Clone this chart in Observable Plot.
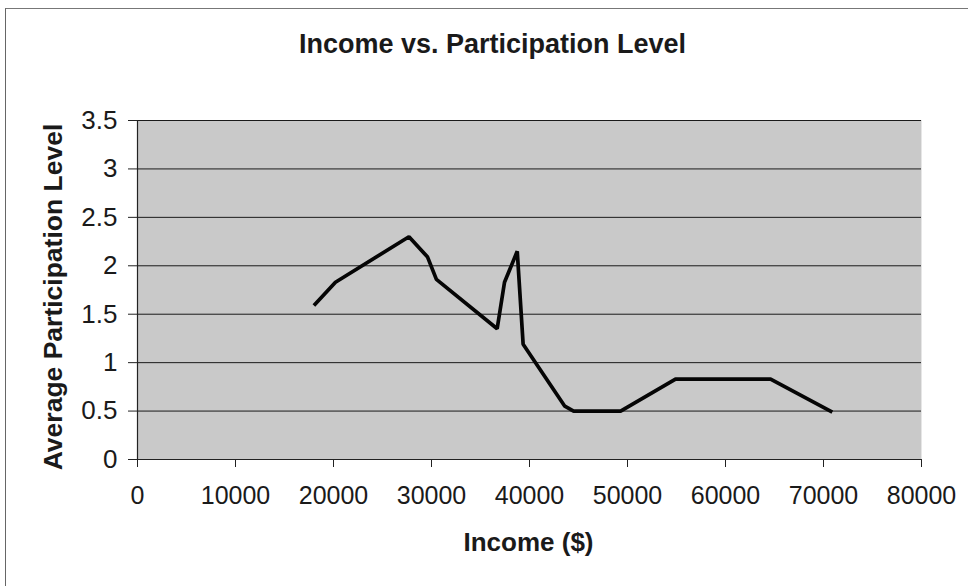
<!DOCTYPE html>
<html>
<head>
<meta charset="utf-8">
<script src="https://cdn.jsdelivr.net/npm/d3@7"></script>
<script src="https://cdn.jsdelivr.net/npm/@observablehq/plot@0.6"></script>
<style>
  html, body { margin: 0; padding: 0; background: #fff; }
  #chart { position: relative; width: 968px; height: 586px; overflow: hidden; }
  #edge { position: absolute; left: 5px; top: 8px; right: -2px; bottom: -2px;
          border-left: 1px solid #666; border-top: 1px solid #777; pointer-events: none; }
  #chart svg { position: absolute; left: 0; top: 0; }
</style>
</head>
<body>
<div id="chart"><div id="edge"></div></div>
<script>
// Average participation level by household income
const income = [18000, 20200, 27700, 29600, 30500, 36700, 37450, 38750, 39350, 43600, 44500, 49300, 54900, 64600, 70900];
const level  = [1.59, 1.83, 2.30, 2.09, 1.86, 1.35, 1.83, 2.15, 1.19, 0.55, 0.50, 0.50, 0.83, 0.83, 0.49];

const xTicks = [0, 10000, 20000, 30000, 40000, 50000, 60000, 70000, 80000];
const yTicks = [0, 0.5, 1, 1.5, 2, 2.5, 3, 3.5];
const yTickLabels = ["0", "0.5", "1", "1.5", "2", "2.5", "3", "3.5"];

const titleText = "Income vs. Participation Level";
const xLabel = "Income ($)";
const yLabel = "Average Participation Level";

const points = income.map((x, i) => ({income: x, level: level[i]}));
const font = "'Liberation Sans', Arial, Helvetica, sans-serif";

const chart = Plot.plot({
  width: 968,
  height: 586,
  marginLeft: 137,
  marginRight: 47,
  marginTop: 120,
  marginBottom: 127,
  style: {fontFamily: font, color: "#111", background: "transparent", overflow: "visible"},
  x: {domain: [0, 80000]},
  y: {domain: [0, 3.5]},
  marks: [
    Plot.frame({fill: "#c9c9c9", stroke: null}),
    Plot.ruleX([80000], {stroke: "#e6e6e6", strokeWidth: 1}),
    Plot.gridY(yTicks, {stroke: "#1a1a1a", strokeOpacity: 1, strokeWidth: 1}),
    Plot.ruleY([0], {stroke: "#222", strokeWidth: 1.2}),
    Plot.ruleX([0], {stroke: "#222", strokeWidth: 1.2}),
    Plot.axisX(xTicks, {
      tickFormat: d => String(d), tickSize: 8, tickPadding: 19,
      fontSize: 25, label: null, stroke: "#222", fill: "#1a1a1a"
    }),
    Plot.axisY(yTicks, {
      tickFormat: d => yTickLabels[yTicks.indexOf(d)], tickSize: 9, tickPadding: 11,
      fontSize: 26, label: null, stroke: "#222", fill: "#1a1a1a"
    }),
    Plot.line(points, {
      x: "income", y: "level", stroke: "#050505", strokeWidth: 3.7,
      strokeLinejoin: "miter", strokeLinecap: "butt"
    }),
    Plot.text([titleText], {
      text: d => d, frameAnchor: "top", dx: -37, dy: -76,
      fontSize: 27, fontWeight: "bold", fill: "#1a1a1a", lineAnchor: "middle", textAnchor: "middle"
    }),
    Plot.text([xLabel], {
      text: d => d, frameAnchor: "bottom", dx: -1, dy: 83,
      fontSize: 26, fontWeight: "bold", fill: "#1a1a1a", lineAnchor: "middle", textAnchor: "middle"
    }),
    Plot.text([yLabel], {
      text: d => d, frameAnchor: "left", dx: -84, dy: 7, rotate: -90,
      fontSize: 26.5, fontWeight: "bold", fill: "#1a1a1a", lineAnchor: "middle", textAnchor: "middle"
    })
  ]
});

document.getElementById("chart").appendChild(chart);
</script>
</body>
</html>
